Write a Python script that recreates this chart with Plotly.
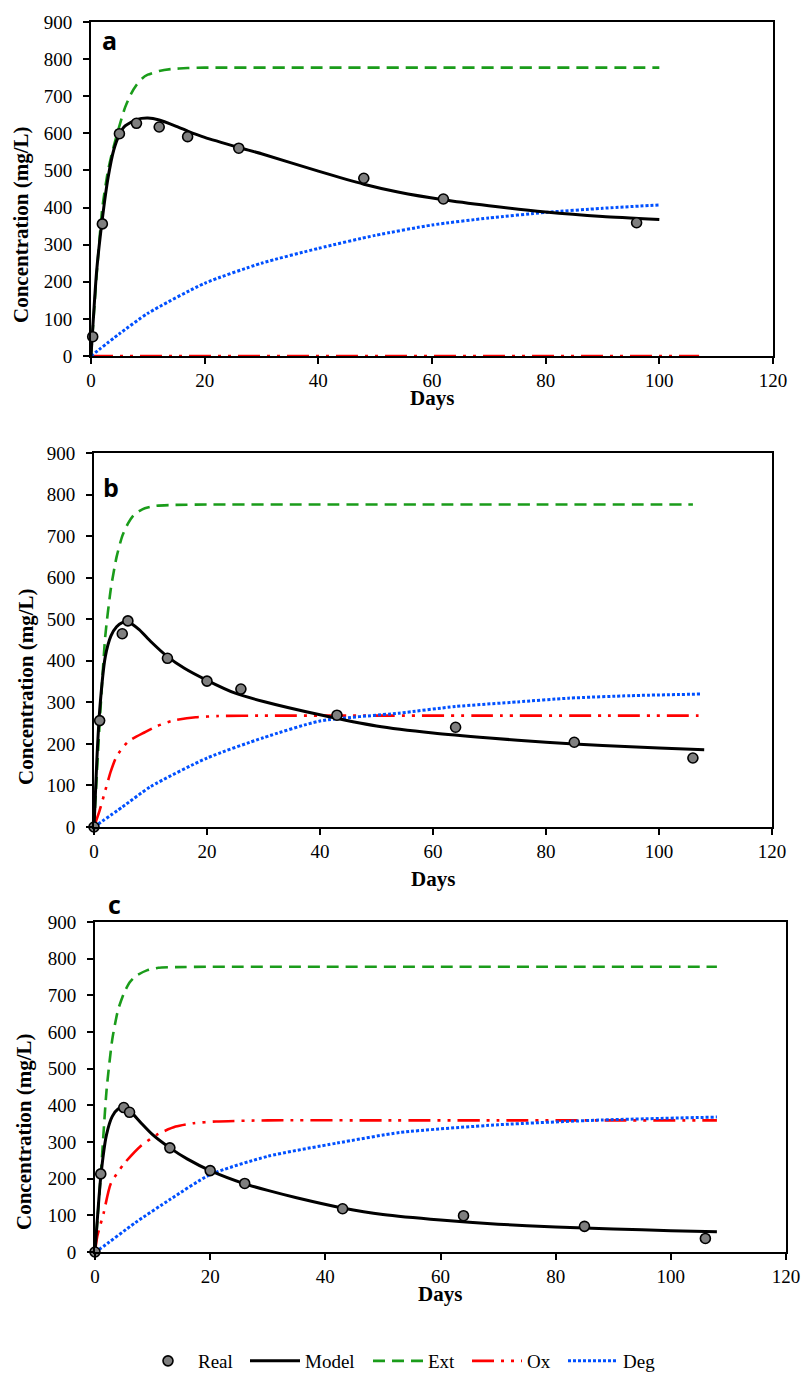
import plotly.graph_objects as go

W, H = 804, 1374

# ---------------- data ----------------
# Panel a
a_real_x = [0.3, 2, 5, 8, 12, 17, 26, 48, 62, 96]
a_real_y = [52, 356, 599, 627, 617, 591, 560, 479, 423, 359]
a_model_x = [0, 1, 2, 3, 4, 5, 6, 8, 10, 12, 15, 17, 20, 26, 30, 40, 48, 54, 62, 70, 80, 90, 100]
a_model_y = [0, 230, 370, 480, 555, 597, 620, 637, 641, 636, 619, 606, 589, 562, 545, 498, 463, 442, 421, 405, 388, 376, 368]
a_ext_x = [0, 1, 2, 3, 4, 5, 6, 7, 8, 9, 10, 12, 14, 17, 20, 40, 60, 80, 100]
a_ext_y = [0, 220, 400, 500, 565, 620, 670, 705, 730, 748, 758, 768, 773, 776, 777, 777, 777, 777, 777]
a_ox_x = [0, 107]
a_ox_y = [0, 0]
a_deg_x = [0, 5, 10, 20, 30, 40, 50, 60, 70, 80, 90, 100]
a_deg_y = [0, 60, 115, 196, 250, 290, 325, 353, 372, 387, 398, 407]

# Panel b
b_real_x = [0, 1, 5, 6, 13, 20, 26, 43, 64, 85, 106]
b_real_y = [0, 256, 465, 496, 406, 351, 332, 269, 240, 204, 166]
b_model_x = [0, 0.5, 1, 2, 3, 4, 5, 6, 8, 10, 13, 16, 20, 25, 30, 40, 50, 60, 70, 80, 90, 100, 108]
b_model_y = [0, 160, 280, 410, 460, 482, 492, 494, 475, 447, 410, 382, 353, 322, 302, 270, 243, 226, 214, 204, 196, 190, 186]
b_ext_x = [0, 1, 2, 3, 4, 5, 6, 7, 8, 9, 11, 14, 20, 40, 60, 80, 100, 106]
b_ext_y = [0, 250, 460, 575, 650, 700, 730, 750, 760, 767, 773, 775, 776, 776, 776, 776, 776, 776]
b_ox_x = [0, 1, 2, 3, 4, 6, 9, 11, 14, 18, 22, 30, 50, 70, 90, 107]
b_ox_y = [0, 40, 88, 135, 170, 205, 228, 242, 256, 264, 267, 268, 268, 268, 268, 268]
b_deg_x = [0, 5, 10, 20, 30, 40, 54, 64, 75, 84, 95, 107.5]
b_deg_y = [0, 48, 97, 166, 215, 255, 274, 290, 301, 310, 316, 320]

# Panel c
c_real_x = [0, 1, 5, 6, 13, 20, 26, 43, 64, 85, 106]
c_real_y = [0, 213, 394, 381, 284, 222, 187, 118, 99, 70, 37]
c_model_x = [0, 1, 2, 3, 4, 5, 6, 8, 10, 13, 16, 20, 26, 30, 35, 43, 50, 60, 70, 80, 90, 100, 108]
c_model_y = [0, 205, 320, 370, 390, 395, 386, 352, 320, 284, 254, 222, 186, 168, 148, 120, 102, 87, 76, 68, 63, 58, 55]
c_ext_x = [0, 1, 2, 3, 4, 5, 6, 7, 9, 11, 14, 20, 40, 60, 80, 100, 108]
c_ext_y = [0, 210, 440, 580, 660, 705, 735, 752, 768, 775, 777, 778, 778, 778, 778, 778, 778]
c_ox_x = [0, 0.4, 1.5, 2.7, 5, 8, 11, 14, 17, 21, 30, 50, 70, 90, 108]
c_ox_y = [0, 43, 106, 185, 240, 290, 322, 342, 351, 356, 359, 359, 359, 359, 359]
c_deg_x = [0, 1, 7, 13, 20, 30, 42, 53, 70, 88, 108]
c_deg_y = [0, 10, 80, 143, 211, 261, 297, 326, 347, 360, 368]

x_ticks = [0, 20, 40, 60, 80, 100, 120]
y_ticks = [0, 100, 200, 300, 400, 500, 600, 700, 800, 900]
legend_names = ["Real", "Model", "Ext", "Ox", "Deg"]
panel_labels = ["a", "b", "c"]

# ---------------- style ----------------
SERIF = "Liberation Serif"
C_GREEN = "#1a9c1a"
C_RED = "#ff0000"
C_BLUE = "#0050ff"
C_GRAY = "#7f7f7f"

# plot-area boxes in pixels (left, right, top, bottom)
boxes = [(91, 773, 22, 356), (94, 772, 453, 827), (95, 786, 922, 1252)]
ytitle_pos = [(21, 225), (26, 687), (24, 1132)]
xtitle_y = [398, 879, 1294]
label_pos = [(110, 40), (111, 487), (114, 904)]
# legend entry left positions (px) for Real, Model, Ext, Ox, Deg
legend_left = [138, 245, 368, 467, 563]
legend_ids = ["legend", "legend2", "legend3", "legend4", "legend5"]


def fx(px):
    return px / W


def fy(py):
    return 1 - py / H


panels = [
    (a_real_x, a_real_y, a_model_x, a_model_y, a_ext_x, a_ext_y, a_ox_x, a_ox_y, a_deg_x, a_deg_y),
    (b_real_x, b_real_y, b_model_x, b_model_y, b_ext_x, b_ext_y, b_ox_x, b_ox_y, b_deg_x, b_deg_y),
    (c_real_x, c_real_y, c_model_x, c_model_y, c_ext_x, c_ext_y, c_ox_x, c_ox_y, c_deg_x, c_deg_y),
]

fig = go.Figure()
annotations = []
layout_axes = {}

for i, (rx, ry, mx, my, ex, ey, ox, oy, dx, dy) in enumerate(panels):
    sfx = "" if i == 0 else str(i + 1)
    xa, ya = "x" + sfx, "y" + sfx
    show = i == 0
    fig.add_trace(go.Scatter(x=ex, y=ey, xaxis=xa, yaxis=ya, mode="lines", name=legend_names[2],
                             line=dict(color=C_GREEN, width=2.6, dash="12px,7px", shape="spline", smoothing=0.6),
                             showlegend=show, legend=legend_ids[2]))
    fig.add_trace(go.Scatter(x=ox, y=oy, xaxis=xa, yaxis=ya, mode="lines", name=legend_names[3],
                             line=dict(color=C_RED, width=2.6, dash="22px,7px,3px,7px,3px,7px", shape="spline", smoothing=0.6),
                             showlegend=show, legend=legend_ids[3]))
    fig.add_trace(go.Scatter(x=dx, y=dy, xaxis=xa, yaxis=ya, mode="lines", name=legend_names[4],
                             line=dict(color=C_BLUE, width=3, dash="3px,2px", shape="spline", smoothing=0.6),
                             showlegend=show, legend=legend_ids[4]))
    fig.add_trace(go.Scatter(x=mx, y=my, xaxis=xa, yaxis=ya, mode="lines", name=legend_names[1],
                             line=dict(color="black", width=3, shape="spline", smoothing=0.6),
                             showlegend=show, legend=legend_ids[1]))
    fig.add_trace(go.Scatter(x=rx, y=ry, xaxis=xa, yaxis=ya, mode="markers", name=legend_names[0],
                             marker=dict(color=C_GRAY, size=10, line=dict(color="black", width=1.6)),
                             cliponaxis=False, showlegend=show, legend=legend_ids[0]))

    l, r, t, b = boxes[i]
    common = dict(showgrid=False, zeroline=False, showline=True, linecolor="black", linewidth=2,
                  mirror=True, ticks="outside", tickwidth=2, tickcolor="black", automargin=False,
                  tickfont=dict(family=SERIF, size=19, color="black"))
    layout_axes["xaxis" + sfx] = dict(common, domain=[fx(l), fx(r)], anchor=ya, range=[0, 120],
                                      tickvals=x_ticks, ticklen=6, ticklabelstandoff=0)
    layout_axes["yaxis" + sfx] = dict(common, domain=[fy(b), fy(t)], anchor=xa, range=[0, 900],
                                      tickvals=y_ticks, ticklen=6, ticklabelstandoff=7)

    annotations.append(dict(text="<b>Concentration (mg/L)</b>", xref="paper", yref="paper",
                            x=fx(ytitle_pos[i][0]), y=fy(ytitle_pos[i][1]), textangle=-90,
                            showarrow=False, xanchor="center", yanchor="middle",
                            font=dict(family=SERIF, size=21, color="black")))
    annotations.append(dict(text="<b>Days</b>", xref="paper", yref="paper",
                            x=fx((l + r) / 2), y=fy(xtitle_y[i]), showarrow=False,
                            xanchor="center", yanchor="middle",
                            font=dict(family=SERIF, size=21, color="black")))
    annotations.append(dict(text="<b>%s</b>" % panel_labels[i], xref="paper", yref="paper",
                            x=fx(label_pos[i][0]), y=fy(label_pos[i][1]), showarrow=False,
                            xanchor="center", yanchor="middle",
                            font=dict(family="Open Sans", size=25, color="black")))

legends = {}
for lid, left in zip(legend_ids, legend_left):
    legends[lid] = dict(orientation="h", x=fx(left), xanchor="left", y=fy(1361), yanchor="middle",
                        font=dict(family=SERIF, size=19, color="black"), itemwidth=50,
                        bgcolor="rgba(0,0,0,0)")

fig.update_layout(
    width=W, height=H,
    margin=dict(l=0, r=0, t=0, b=0, autoexpand=False),
    font=dict(family=SERIF, size=19, color="black"),
    paper_bgcolor="white", plot_bgcolor="white",
    annotations=annotations,
    **legends,
    **layout_axes,
)

fig.write_html("out.html", config={"displayModeBar": False},
               post_script="document.body.style.margin='0px';document.body.style.overflow='hidden';")
